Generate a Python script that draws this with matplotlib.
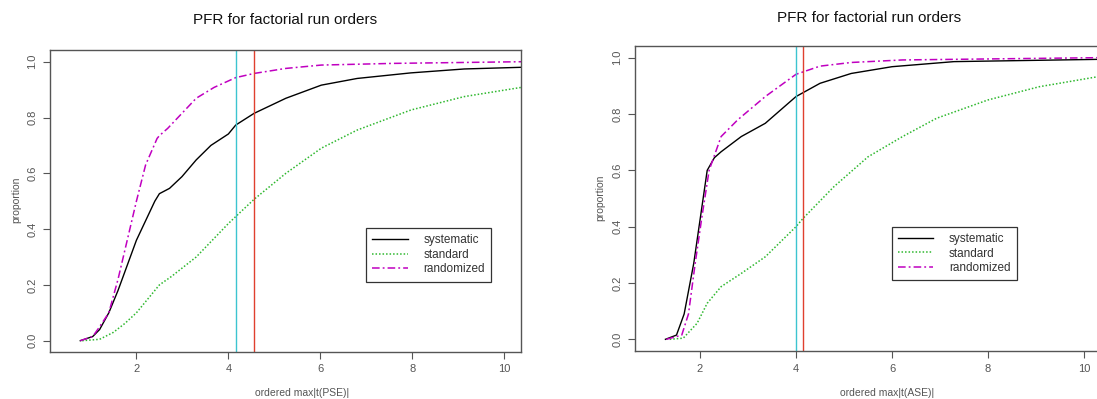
import matplotlib
matplotlib.use("Agg")
import matplotlib.pyplot as plt

plt.rcParams['font.family'] = ['Liberation Sans', 'DejaVu Sans']

# left panel: PSE
pse_sys_x = [0.78, 1.05, 1.2, 1.4, 1.6, 1.8, 2.0, 2.2, 2.4, 2.5, 2.72, 2.99, 3.3, 3.62, 4.0, 4.16, 4.56, 5.25, 6.02, 6.8, 7.97, 9.13, 10.37]
pse_sys_y = [0.0, 0.015, 0.04, 0.10, 0.18, 0.27, 0.36, 0.43, 0.50, 0.527, 0.546, 0.588, 0.648, 0.70, 0.741, 0.773, 0.815, 0.869, 0.916, 0.94, 0.96, 0.974, 0.98]
pse_std_x = [0.82, 1.2, 1.5, 1.75, 2.0, 2.25, 2.5, 2.76, 3.3, 4.0, 4.16, 4.56, 5.25, 6.02, 6.8, 7.97, 9.13, 10.37]
pse_std_y = [0.0, 0.005, 0.03, 0.062, 0.10, 0.15, 0.20, 0.23, 0.30, 0.42, 0.445, 0.507, 0.60, 0.69, 0.755, 0.827, 0.875, 0.908]
pse_rnd_x = [0.78, 1.05, 1.2, 1.4, 1.6, 1.8, 2.0, 2.2, 2.45, 2.5, 2.68, 2.99, 3.3, 3.69, 4.16, 4.56, 5.25, 6.02, 7.58, 10.37]
pse_rnd_y = [0.0, 0.015, 0.05, 0.10, 0.22, 0.36, 0.50, 0.63, 0.725, 0.735, 0.761, 0.815, 0.869, 0.908, 0.943, 0.958, 0.976, 0.988, 0.994, 1.0]

# right panel: ASE
ase_sys_x = [1.28, 1.51, 1.67, 1.87, 2.01, 2.15, 2.3, 2.44, 2.86, 3.36, 4.0, 4.5, 5.15, 6.0, 7.29, 10.27]
ase_sys_y = [0.0, 0.015, 0.09, 0.27, 0.435, 0.60, 0.645, 0.666, 0.72, 0.767, 0.862, 0.909, 0.944, 0.968, 0.986, 0.994]
ase_std_x = [1.37, 1.65, 1.94, 2.15, 2.44, 2.86, 3.36, 4.0, 4.15, 4.79, 5.5, 6.22, 6.93, 8.0, 9.07, 10.27]
ase_std_y = [0.0, 0.004, 0.057, 0.128, 0.187, 0.234, 0.293, 0.40, 0.43, 0.542, 0.648, 0.72, 0.785, 0.85, 0.897, 0.932]
ase_rnd_x = [1.3, 1.62, 1.76, 1.9, 2.04, 2.19, 2.44, 2.79, 3.36, 4.0, 4.5, 5.15, 6.22, 10.27]
ase_rnd_y = [0.0, 0.015, 0.09, 0.27, 0.435, 0.60, 0.72, 0.78, 0.862, 0.941, 0.97, 0.983, 0.992, 1.0]

pse_cut = [4.16, 4.56]
ase_cut = [4.0, 4.15]
labels = ['systematic', 'standard', 'randomized']

W, H = 1097, 399
fig = plt.figure(figsize=(W / 100, H / 100), dpi=100)

def px_axes(l, t, r, b):
    return fig.add_axes([l / W, 1 - b / H, (r - l) / W, (b - t) / H])

ax1 = px_axes(50, 50, 521.4, 352)
ax2 = px_axes(635, 46, 1097, 351)

grey = '#555555'


def draw(ax, sx, sy, gx, gy, rx, ry, cut, xlim, ylim, leg_anchor):
    ax.plot(sx, sy, color='black', lw=1.0, label=labels[0])
    ax.plot(gx, gy, color='#2fb82f', lw=1.1, ls=(0, (1, 1.3)), label=labels[1])
    ax.plot(rx, ry, color='#c000c0', lw=1.1, ls=(0, (5, 2, 1.2, 2)), label=labels[2])
    ax.axvline(cut[0], color='#3cc4d0', lw=1.0)
    ax.axvline(cut[1], color='#e0402f', lw=1.0)
    ax.set_xlim(*xlim)
    ax.set_ylim(*ylim)
    ax.set_xticks([2, 4, 6, 8, 10])
    ax.set_yticks([0.0, 0.2, 0.4, 0.6, 0.8, 1.0])
    ax.set_yticklabels(['0.0', '0.2', '0.4', '0.6', '0.8', '1.0'], rotation=90, va='center')
    ax.tick_params(colors=grey, labelsize=8, length=5, width=0.8, pad=4)
    for s in ax.spines.values():
        s.set_color(grey)
        s.set_linewidth(1.0)
    leg = ax.legend(loc='upper left', bbox_to_anchor=leg_anchor, borderaxespad=0,
                    fancybox=False, framealpha=1, edgecolor='#333333', fontsize=8.5,
                    handlelength=3.0, handletextpad=1.3, borderpad=0.55,
                    labelspacing=0.2)
    leg.get_frame().set_linewidth(0.9)
    for t in leg.get_texts():
        t.set_color('#333333')


draw(ax1, pse_sys_x, pse_sys_y, pse_std_x, pse_std_y, pse_rnd_x, pse_rnd_y,
     pse_cut, (0.121, 10.372), (-0.0405, 1.042), ((366 - 50) / 471.4, (352 - 228) / 302))
draw(ax2, ase_sys_x, ase_sys_y, ase_std_x, ase_std_y, ase_rnd_x, ase_rnd_y,
     ase_cut, (0.646, 10.27), (-0.0415, 1.0415), ((891.5 - 635) / 462, (351 - 226.7) / 305))
ax2.spines['right'].set_visible(False)

fig.text(285.5 / W, 1 - 20 / H, 'PFR for factorial run orders', ha='center', va='center', fontsize=11, color='#111111')
fig.text(869 / W, 1 - 18 / H, 'PFR for factorial run orders', ha='center', va='center', fontsize=11, color='#111111')
fig.text(302 / W, 1 - 393 / H, 'ordered max|t(PSE)|', ha='center', va='center', fontsize=7.5, color=grey)
fig.text(887 / W, 1 - 392.5 / H, 'ordered max|t(ASE)|', ha='center', va='center', fontsize=7.5, color=grey)
fig.text(16 / W, 1 - 200 / H, 'proportion', ha='center', va='center', rotation=90, fontsize=7.5, color=grey)
fig.text(600 / W, 1 - 198 / H, 'proportion', ha='center', va='center', rotation=90, fontsize=7.5, color=grey)

fig.savefig('out.png', dpi=100)
